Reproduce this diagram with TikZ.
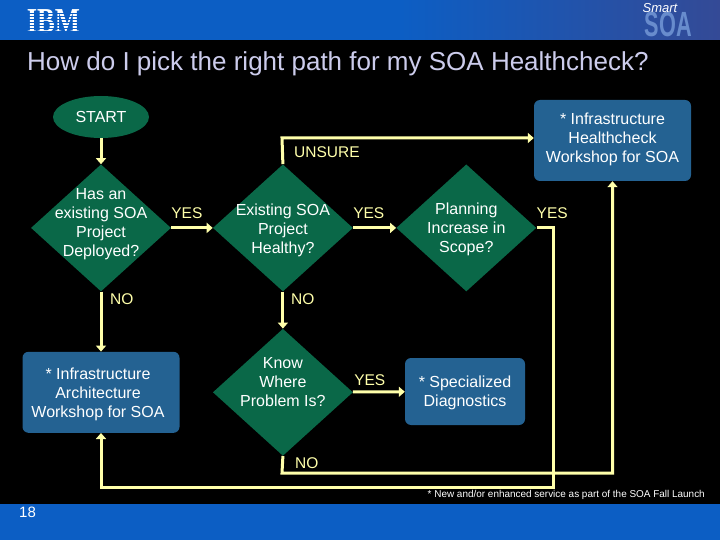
\documentclass[tikz,border=0pt]{standalone}
\usepackage{fontspec}
\setmainfont{Liberation Sans}
\newfontfamily\logofont{Liberation Serif}
\definecolor{bandblue}{RGB}{12, 94, 196}
\definecolor{banddusk}{RGB}{52, 74, 150}
\definecolor{medgreen}{RGB}{10, 104, 72}
\definecolor{medblue}{RGB}{36, 98, 146}
\definecolor{flowyellow}{RGB}{255, 255, 170}
\definecolor{titlelilac}{RGB}{204, 204, 236}
\definecolor{soablue}{RGB}{104, 140, 205}
\usetikzlibrary{arrows.meta, positioning, shapes.geometric}
\tikzset{
	startnode/.style={ellipse, fill=medgreen, text=white, inner sep=0pt, minimum width=96pt, minimum height=42pt, font=\fontsize{16}{19}\selectfont},
	decision/.style={diamond, aspect=1.1, fill=medgreen, inner sep=0pt, minimum width=140pt, minimum height=127pt},
	nodetext/.style={text=white, inner sep=0pt, align=center, font=\fontsize{16}{19}\selectfont},
	service/.style={rectangle, rounded corners=6pt, fill=medblue, inner sep=0pt, minimum width=157pt, minimum height=81pt},
	branch/.style={text=flowyellow, inner sep=0pt, font=\fontsize{15.5}{19}\selectfont},
	flow/.style={-{Triangle[width=10pt, length=6pt]}, line width=3pt, draw=flowyellow},
}

\begin{document}
\begin{tikzpicture}[x=1pt, y=-1pt]
		\useasboundingbox (0,0) rectangle (720,540);
		\fill[black] (0,0) rectangle (720,540);
		\shade[left color=bandblue, right color=banddusk] (400,0) rectangle (720,40);
		\fill[bandblue] (0,0) rectangle (400,40);
		\fill[bandblue] (0,504) rectangle (720,540);
		\node[text=white, inner sep=0pt, font=\logofont\bfseries\fontsize{35}{35}\selectfont] (ibm) at (53.5,21.5) {\scalebox{0.76}[1]{IBM}};
		\foreach \y in {13,16,19,22,25,28,31}
			\draw[bandblue, line width=0.9pt] (24,\y) -- (83,\y);
		\node[text=soablue, inner sep=0pt, font=\bfseries\fontsize{35}{35}\selectfont] (soa) at (668.5,24.5) {\scalebox{0.62}[1]{SOA}};
		\node[text=white, inner sep=0pt, font=\itshape\fontsize{13}{13}\selectfont] (smart) at (660,8) {Smart};
		\node[text=titlelilac, anchor=west, inner sep=0pt, font=\fontsize{26}{30}\selectfont] (title) at (27,63.5) {How do I pick the right path for my SOA Healthcheck?};
		\node[startnode] (start) at (101,117) {START};
		\node[decision, below=26pt of start] (deployed) {};
		\node[nodetext, yshift=4pt] at (deployed) {Has an\\existing SOA\\Project\\Deployed?};
		\node[decision, right=41.5pt of deployed] (healthy) {};
		\node[nodetext, yshift=-2pt] at (healthy) {Existing SOA\\Project\\Healthy?};
		\node[decision, right=43pt of healthy] (planning) {};
		\node[nodetext, yshift=-1pt] at (planning) {Planning\\Increase in\\Scope?};
		\node[service] (hcheck) at (612.5,140.5) {};
		\node[nodetext, yshift=1pt] at (hcheck) {* Infrastructure\\Healthcheck\\Workshop for SOA};
		\node[service, below=60pt of deployed] (archshop) {};
		\node[nodetext, yshift=-2pt, xshift=-3pt] at (archshop) {* Infrastructure\\Architecture\\Workshop for SOA};
		\node[decision, below=37pt of healthy] (known) {};
		\node[nodetext, yshift=10pt] at (known) {Know\\Where\\Problem Is?};
		\node[service, minimum width=120pt, minimum height=67pt] (special) at (465,391.5) {};
		\node[nodetext, yshift=-1.5pt] at (special) {* Specialized\\Diagnostics};
		\coordinate (unsurebend) at (282,138);
		\coordinate (nobend) at (282,473);
		\coordinate (returnbend) at (553,487);
		\draw[flow] (start) -- (deployed);
		\draw[flow] (deployed) -- (healthy);
		\draw[flow] (healthy) -- (planning);
		\draw[flow] (deployed) -- (archshop);
		\draw[flow] (healthy) -- (known);
		\draw[flow] (known) -- (special);
		\draw[flow] (healthy.north) -- (unsurebend) -- (unsurebend -| hcheck.west);
		\draw[flow] (known.south) -- (nobend) -| (hcheck.south);
		\draw[flow] (planning.east) -| (returnbend) -| (archshop.south);
		\node[branch, above right=9pt and 0pt of deployed.east] (yesone) {YES};
		\node[branch, above right=9pt and 0pt of healthy.east] (yestwo) {YES};
		\node[branch, above right=9pt and 0pt of planning.east] (yesthree) {YES};
		\node[branch, above right=6pt and 1pt of known.east] (yesfour) {YES};
		\node[branch, below right=2pt and 9pt of deployed.south] (noone) {NO};
		\node[branch, below right=2pt and 8pt of healthy.south] (notwo) {NO};
		\node[branch, below right=1pt and 12pt of known.south] (nothree) {NO};
		\node[branch, below right=8pt and 12pt of unsurebend] (unsure) {UNSURE};
		\node[text=white, anchor=east, inner sep=0pt, font=\fontsize{9.95}{11}\selectfont] (note) at (705,495) {* New and/or enhanced service as part of the SOA Fall Launch};
		\node[text=white, anchor=west, inner sep=0pt, font=\fontsize{15}{16}\selectfont] (pageno) at (19,512) {18};
	\end{tikzpicture}
\end{document}
